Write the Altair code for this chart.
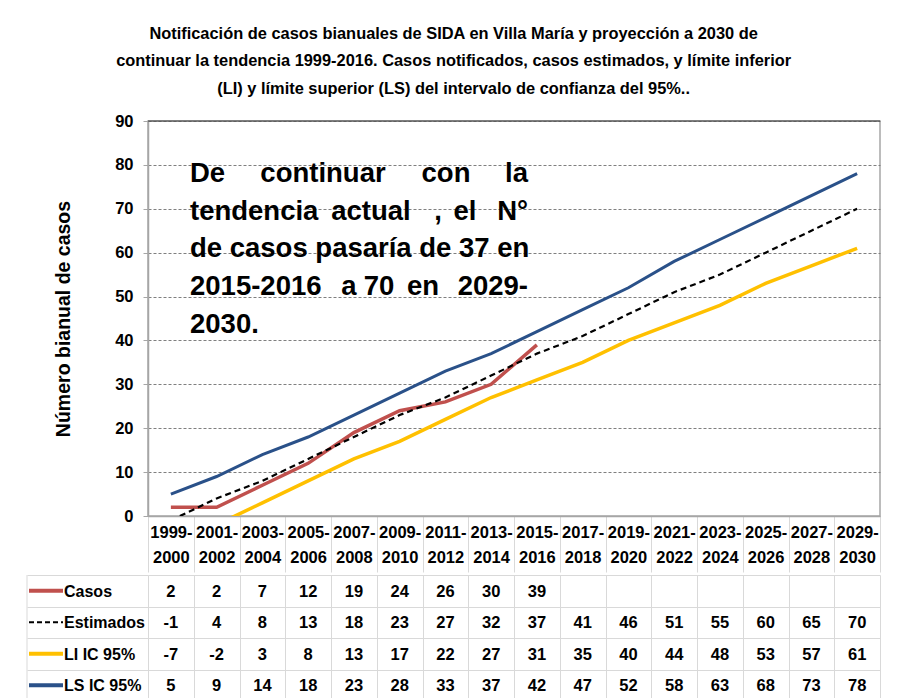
import altair as alt
import pandas as pd

# ---------------- data ----------------
periods = ["1999-2000", "2001-2002", "2003-2004", "2005-2006", "2007-2008",
           "2009-2010", "2011-2012", "2013-2014", "2015-2016", "2017-2018",
           "2019-2020", "2021-2022", "2023-2024", "2025-2026", "2027-2028",
           "2029-2030"]
casos = [2, 2, 7, 12, 19, 24, 26, 30, 39]
estimados = [-1, 4, 8, 13, 18, 23, 27, 32, 37, 41, 46, 51, 55, 60, 65, 70]
li_ic95 = [-7, -2, 3, 8, 13, 17, 22, 27, 31, 35, 40, 44, 48, 53, 57, 61]
ls_ic95 = [5, 9, 14, 18, 23, 28, 33, 37, 42, 47, 52, 58, 63, 68, 73, 78]
series_names = ["Casos", "Estimados", "LI IC 95%", "LS IC 95%"]
series_colors = ["#c0504d", "#000000", "#ffc000", "#2a5189"]

title_lines = [
    "Notificación de casos bianuales de SIDA en Villa María y proyección a 2030 de",
    "continuar la tendencia 1999-2016. Casos notificados, casos estimados, y límite inferior",
    "(LI) y límite superior (LS) del intervalo de confianza del 95%..",
]
y_title = "Número bianual de casos"

# annotation words (text, line index)
note_words = [
    ("De", 0), ("continuar", 0), ("con", 0), ("la", 0),
    ("tendencia", 1), ("actual", 1), (",", 1), ("el", 1), ("N°", 1),
    ("de casos pasaría de 37 en", 2),
    ("2015-2016", 3), ("a", 3), ("70", 3), ("en", 3), ("2029-", 3),
    ("2030.", 4),
]

# ---------------- layout / style ----------------
FONT = "Liberation Sans"
W, H = 732, 395
ROW_H = 31.5
TH = ROW_H * 4
LABEL_COL = 121

# (align, x px from plot left) for each annotation word
note_pos = [("left", 42), ("center", 175), ("center", 298), ("right", 380),
            ("left", 42), ("center", 223), ("center", 290), ("center", 317), ("right", 380),
            ("left", 42),
            ("left", 42), ("center", 201), ("center", 231), ("center", 275), ("right", 380),
            ("left", 42)]
note_baseline_y = [61, 99, 136, 174, 212]

rows = []
for name, vals in zip(series_names, [casos, estimados, li_ic95, ls_ic95]):
    for p, v in zip(periods, vals):
        rows.append({"periodo": p, "serie": name, "valor": v, "etiqueta": str(v)})
df = pd.DataFrame(rows)
df_series = pd.DataFrame({"serie": series_names})

x_scale = alt.Scale(type="band", domain=periods, paddingInner=0, paddingOuter=0)

base = alt.Chart(df)

x_axis = alt.Axis(
    title=None, labelAngle=0,
    labelExpr="[slice(datum.label, 0, 5), slice(datum.label, 5)]",
    labelFont=FONT, labelFontSize=16.5, labelFontWeight="bold", labelColor="black",
    labelLineHeight=25, labelBaseline="top",
    tickBand="extent", tickSize=56, tickColor="#d9d9d9", tickWidth=1,
    labelPadding=-48, domainColor="#a6a6a6", domainWidth=1.5, grid=False,
)
y_axis = alt.Axis(
    values=list(range(0, 91, 10)), title=y_title,
    titleFont=FONT, titleFontSize=19.5, titleFontWeight="bold", titleColor="black",
    titlePadding=41,
    labelFont=FONT, labelFontSize=16.5, labelFontWeight="bold", labelColor="black",
    labelPadding=10, tickSize=5, tickColor="#a6a6a6", domainColor="#a6a6a6",
    domainWidth=1.5, grid=True, gridColor="#7f7f7f", gridDash=[3, 2], gridWidth=1,
)

def line_layer(name, color, width, dash=None):
    kw = dict(clip=True, color=color, strokeWidth=width)
    if dash:
        kw["strokeDash"] = dash
    return base.transform_filter(alt.datum.serie == name).mark_line(**kw).encode(
        x=alt.X("periodo:N", scale=x_scale, axis=x_axis),
        y=alt.Y("valor:Q", scale=alt.Scale(domain=[0, 90]), axis=y_axis),
    )

top_rule = alt.Chart(alt.Data(values=[{}])).mark_rule(color="#404040", strokeWidth=1).encode(
    y=alt.datum(90)
)

note_layers = []
for (txt, li), (align, xx) in zip(note_words, note_pos):
    note_layers.append(
        alt.Chart(alt.Data(values=[{}])).mark_text(
            font=FONT, fontSize=27.5, fontWeight="bold", color="black",
            align=align, baseline="alphabetic"
        ).encode(x=alt.value(xx), y=alt.value(note_baseline_y[li]), text=alt.value(txt))
    )

plot = alt.layer(
    top_rule,
    line_layer("Casos", series_colors[0], 3.5),
    line_layer("Estimados", series_colors[1], 2.2, [6, 4]),
    line_layer("LI IC 95%", series_colors[2], 3.5),
    line_layer("LS IC 95%", series_colors[3], 3),
    *note_layers,
).properties(width=W, height=H,
             view=alt.ViewBackground(stroke="#a6a6a6", strokeWidth=1.5))

# ---------------- data table ----------------
y_tab_scale = alt.Scale(domain=series_names, paddingInner=0, paddingOuter=0)
tab_y_axis = alt.Axis(labels=False, title=None, domain=False, ticks=True,
                      tickBand="extent", tickSize=LABEL_COL, tickColor="#d9d9d9",
                      grid=True, gridColor="#d9d9d9")
tab_x_axis = alt.Axis(labels=False, ticks=False, domain=False, title=None,
                      grid=True, tickBand="extent", gridColor="#d9d9d9", orient="top")

cells = base.transform_filter("isValid(datum.valor)").mark_text(
    font=FONT, fontSize=16.5, fontWeight="bold", color="black",
    align="center", baseline="middle", dy=1
).encode(
    x=alt.X("periodo:N", scale=x_scale, axis=tab_x_axis),
    y=alt.Y("serie:N", scale=y_tab_scale, axis=tab_y_axis),
    text="etiqueta:N",
)

row_labels = alt.Chart(df_series).mark_text(
    font=FONT, fontSize=16, fontWeight="bold", color="black",
    align="left", baseline="middle", dy=1
).encode(
    x=alt.value(-84),
    y=alt.Y("serie:N", scale=y_tab_scale, axis=tab_y_axis),
    text="serie:N",
)

key_solid = alt.Chart(df_series).transform_filter(
    alt.datum.serie != "Estimados"
).mark_rule(strokeWidth=4).encode(
    x=alt.value(-119), x2=alt.value(-85),
    y=alt.Y("serie:N", scale=y_tab_scale, axis=tab_y_axis),
    color=alt.Color("serie:N", scale=alt.Scale(domain=series_names, range=series_colors),
                    legend=None),
)
key_dash = alt.Chart(df_series).transform_filter(
    alt.datum.serie == "Estimados"
).mark_rule(strokeWidth=2.2, strokeDash=[5, 3], color="black").encode(
    x=alt.value(-119), x2=alt.value(-85),
    y=alt.Y("serie:N", scale=y_tab_scale, axis=tab_y_axis),
)

left_border = alt.Chart(alt.Data(values=[{}])).mark_rule(color="#d9d9d9").encode(
    x=alt.value(-LABEL_COL), y=alt.value(0), y2=alt.value(TH)
)

table = alt.layer(cells, row_labels, key_solid, key_dash, left_border).properties(
    width=W, height=TH, view=alt.ViewBackground(stroke="transparent")
)

chart = alt.vconcat(plot, table, spacing=0).properties(
    title=alt.TitleParams(
        text=title_lines, anchor="middle", font=FONT, fontSize=16.4,
        fontWeight="bold", color="black", lineHeight=27.5, offset=15,
    ),
    padding={"left": 18, "top": 17, "right": 10, "bottom": 0},
    background="white",
)

chart.save("out.html", embed_options={"renderer": "svg", "actions": False})
